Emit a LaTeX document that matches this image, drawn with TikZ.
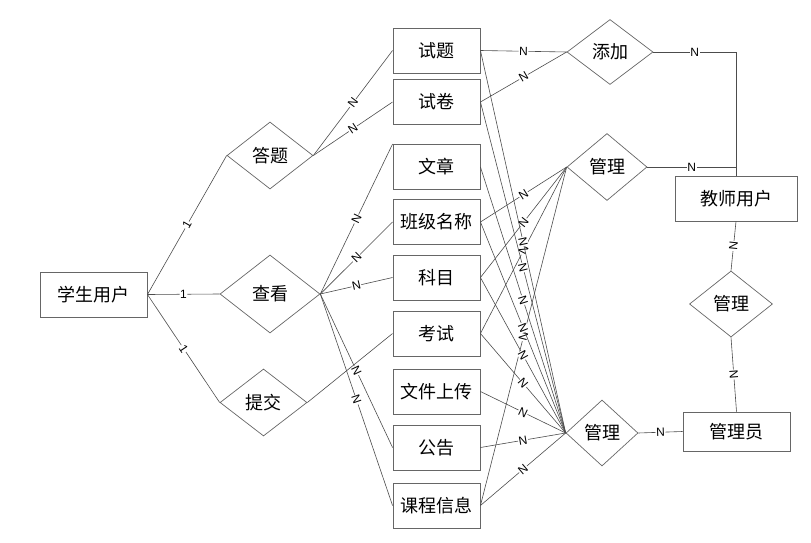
\documentclass[tikz,border=0pt]{standalone}
\usepackage{fontspec}
\setmainfont{Noto Sans CJK SC}
\newfontfamily\labfont{Liberation Sans}
\usepackage{tikz}
\usetikzlibrary{shapes.geometric, positioning, calc}

\begin{document}
\begin{tikzpicture}[x=1pt, y=-1pt,
    ent/.style={draw=black!60, line width=0.9pt, minimum width=87pt, minimum height=45pt, inner sep=0pt, font=\fontsize{18}{18}\selectfont},
    rel/.style={diamond, draw=black!60, line width=0.7pt, inner sep=0pt, font=\fontsize{18}{18}\selectfont},
    link/.style={draw=black!70, line width=0.6pt},
    card/.style={font=\labfont\fontsize{12}{12}\selectfont, fill=white, inner sep=0.6pt, sloped, midway}]
    \useasboundingbox (0,0) rectangle (811,543);

    % Entities
    \node[ent, minimum width=107pt] (student) at (93.5,294.5) {学生用户};
    \node[ent] (question)  at (436.5,50.5)  {试题};
    \node[ent] (paper)     at (436.5,102)   {试卷};
    \node[ent] (article)   at (436.5,167)   {文章};
    \node[ent] (classname) at (436.5,222)   {班级名称};
    \node[ent] (subject)   at (436.5,277.5) {科目};
    \node[ent] (exam)      at (436.5,333.5) {考试};
    \node[ent] (upload)    at (436.5,391.5) {文件上传};
    \node[ent] (notice)    at (436.5,447.5) {公告};
    \node[ent] (course)    at (436.5,505.5) {课程信息};
    \node[ent, minimum width=122pt] (teacher) at (736,198.5) {教师用户};
    \node[ent, minimum width=107pt, minimum height=39pt] (admin) at (736.5,431.5) {管理员};

    % Relations
    \node[rel, minimum width=86pt, minimum height=67pt] (answer) at (270,155.5) {答题};
    \node[rel, minimum width=100pt, minimum height=78pt] (view) at (270,294) {查看};
    \node[rel, minimum width=87pt, minimum height=67pt] (submit) at (263.5,402.5) {提交};
    \node[rel, minimum width=86pt, minimum height=65pt] (add) at (610,52) {添加};
    \node[rel, minimum width=80pt, minimum height=67pt] (manageT) at (607,167) {管理};
    \node[rel, minimum width=83pt, minimum height=66pt] (manageM) at (731,304) {管理};
    \node[rel, minimum width=72pt, minimum height=66pt] (manageB) at (602,433) {管理};

    % Student side
    \draw[link] (student.east) -- node[card]{1} (answer.west);
    \draw[link] (student.east) -- node[card]{1} (view.west);
    \draw[link] (student.east) -- node[card]{1} (submit.west);
    \draw[link] (answer.east) -- node[card]{N} (question.west);
    \draw[link] (answer.east) -- node[card]{N} (paper.west);
    \draw[link] (view.east) -- node[card]{N} (article.north west);
    \draw[link] (view.east) -- node[card]{N} (classname.west);
    \draw[link] (view.east) -- node[card]{N} (subject.west);
    \draw[link] (view.east) -- node[card]{N} (notice.west);
    \draw[link] (view.east) -- node[card]{N} (course.west);
    \draw[link] (submit.east) -- (exam.west);

    % Add and manage
    \draw[link] (question.east) -- node[card]{N} (add.west);
    \draw[link] (paper.east) -- node[card]{N} (add.west);
    \foreach \e in {classname, subject, exam, course}
        \draw[link] (\e.east) -- node[card]{N} (manageT.west);
    \foreach \e in {question, paper, article, classname, subject, exam, upload, notice, course}
        \draw[link] (\e.east) -- node[card]{N} (manageB.west);

    % Users
    \coordinate (tjoin) at (teacher.north |- manageT.east);
    \draw[link] (add.east) -| node[card, pos=0.25]{N} (teacher.north);
    \draw[link] (manageT.east) -- node[card]{N} (tjoin);
    \draw[link] (teacher.south) -- node[card]{N} (manageM.north);
    \draw[link] (manageM.south) -- node[card]{N} (admin.north);
    \draw[link] (manageB.east) -- node[card]{N} (admin.west);
\end{tikzpicture}
\end{document}
